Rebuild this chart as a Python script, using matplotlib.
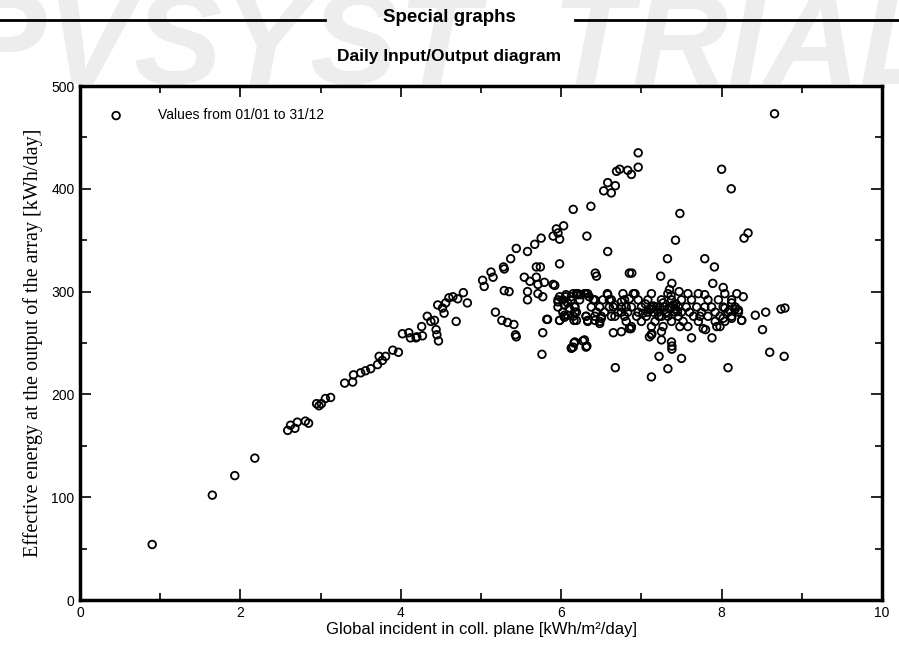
import matplotlib
matplotlib.use("Agg")
import matplotlib.pyplot as plt
from matplotlib.lines import Line2D
from matplotlib.ticker import MultipleLocator

# Global incident in collector plane [kWh/m2/day] and effective array output [kWh/day]
x_low = [0.9, 1.65, 1.93, 2.18, 2.59, 2.625, 2.68, 2.71, 2.81, 2.85, 2.95, 2.98, 3.01, 3.06, 3.125,
         3.3, 3.4, 3.41, 3.5, 3.56, 3.625, 3.71, 3.73, 3.77, 3.81, 3.9, 3.97, 4.02, 4.1, 4.12, 4.19,
         4.2, 4.26, 4.27, 4.33, 4.375, 4.42, 4.44, 4.45, 4.47, 4.46, 4.52, 4.54, 4.56, 4.6, 4.65,
         4.69, 4.71, 4.78, 4.83]
y_low = [54, 102, 121, 138, 165, 170, 167, 173, 174, 172, 191, 189, 191, 196, 197,
         211, 212, 219, 221, 223, 225, 229, 237, 233, 237, 243, 241, 259, 260, 255, 255,
         256, 266, 257, 276, 271, 272, 263, 258, 252, 287, 284, 279, 289, 294, 295,
         271, 293, 299, 289]

x_mid = [5.02, 5.04, 5.125, 5.15, 5.18, 5.26, 5.29, 5.35, 5.33, 5.41, 5.43, 5.44, 5.54, 5.58,
         5.58, 5.61, 5.69, 5.71, 5.71, 5.77, 5.79, 5.77, 5.76, 5.83, 5.9, 5.96, 5.98, 6.04, 6.06,
         6.08, 6.125, 6.16, 6.16, 6.21, 6.15, 6.03, 5.94, 5.96, 5.9, 5.98, 5.75, 5.67, 5.58, 5.44,
         5.37, 5.28, 5.29, 5.98, 5.69, 5.74, 5.92, 5.82]
y_mid = [311, 305, 319, 314, 280, 272, 301, 300, 270, 268, 258, 256, 314, 300,
         292, 310, 314, 307, 298, 295, 309, 260, 239, 273, 307, 292, 272, 277, 295,
         289, 245, 250, 272, 297, 380, 364, 361, 357, 354, 351, 352, 346, 339, 342,
         332, 324, 322, 327, 324, 324, 306, 273]

x_top = [6.96, 6.96, 6.73, 6.69, 6.83, 6.875, 6.58, 6.53, 6.625, 6.675, 6.37, 6.32, 6.58, 6.425,
         6.44, 7.48, 7.425, 7.325, 6.88, 7.24, 8.0, 8.12, 8.28, 8.33, 7.79, 7.91, 7.38, 7.35,
         7.47, 7.89, 8.02, 7.79, 8.19, 8.27, 8.66]
y_top = [435, 421, 419, 417, 418, 414, 406, 398, 396, 403, 383, 354, 339, 318,
         315, 376, 350, 332, 318, 315, 419, 400, 352, 357, 332, 324, 308, 302,
         300, 308, 304, 297, 298, 295, 473]

x_band = [6.15, 6.21, 6.29, 6.33, 6.575, 6.77, 6.9, 6.92, 7.125, 7.33, 7.58, 7.71, 8.04,
          6.125, 6.23, 6.4, 6.52, 6.6, 6.79, 6.96, 7.08, 7.25, 7.375, 7.5, 7.625, 7.83, 7.96, 8.125,
          6.17, 6.375, 6.48, 6.65, 6.75, 6.875, 7.0, 7.125, 7.19, 7.23, 7.29, 7.375, 7.46, 7.56,
          7.69, 7.79, 7.875, 8.02, 8.17,
          6.19, 6.44, 6.54, 6.71, 6.83, 6.96, 7.08, 7.15, 7.21, 7.31, 7.42, 7.5, 7.6, 7.75, 7.92,
          8.08, 8.21,
          6.15, 6.31, 6.42, 6.5, 6.625, 6.79, 6.94, 7.06, 7.25, 7.33, 7.46, 7.65, 7.73, 7.83,
          7.98, 8.125,
          6.33, 6.48, 6.81, 7.0, 7.17, 7.375, 7.52, 7.71, 7.92, 8.04,
          6.875, 7.125, 7.27, 7.48, 7.58, 7.94,
          5.98, 5.96, 6.02, 6.06, 6.125, 6.19, 6.25, 6.31, 6.35, 6.42, 5.96, 6.04, 6.10, 6.02,
          6.08, 6.17, 6.19, 6.17, 5.98, 6.04, 6.31, 6.33, 6.42, 6.48, 6.5, 6.58, 6.625, 6.67,
          6.6, 6.75, 6.81, 6.85, 6.67, 6.75, 6.85,
          7.05, 7.1, 7.15, 7.2, 7.27, 7.35, 7.4, 7.45, 7.02, 7.12, 7.22, 7.32, 7.42,
          8.04, 8.1, 8.17, 8.21, 8.125, 8.125, 8.25, 8.02, 8.42, 8.55, 8.74, 8.79, 7.37, 7.43]
y_band = [298, 298, 298, 298, 298, 298, 298, 298, 298, 298, 298, 298, 298,
          292, 292, 292, 292, 292, 292, 292, 292, 292, 292, 292, 292, 292, 292, 292,
          285, 285, 285, 285, 285, 285, 285, 285, 285, 285, 285, 285, 285, 285,
          285, 285, 285, 285, 285,
          280, 280, 280, 280, 280, 280, 280, 280, 280, 280, 280, 280, 280, 280, 280,
          280, 280,
          276, 276, 276, 276, 276, 276, 276, 276, 276, 276, 276, 276, 276, 276,
          276, 276,
          271, 271, 271, 271, 271, 271, 271, 271, 271, 271,
          266, 266, 266, 266, 266, 266,
          295, 290, 292, 297, 295, 298, 297, 298, 295, 292, 285, 287, 284, 280,
          277, 280, 272, 285, 272, 275, 276, 272, 272, 269, 274, 297, 292, 287,
          285, 290, 285, 293, 276, 280, 318,
          288, 283, 286, 282, 289, 284, 287, 281, 279, 283, 276, 279, 283,
          284, 282, 283, 282, 289, 274, 272, 274, 277, 280, 283, 284, 296, 288]

x_lowcl = [6.65, 6.75, 7.1, 7.125, 7.25, 7.25, 7.375, 7.38, 7.38, 7.625, 7.77, 7.8, 7.88, 7.98,
           7.22, 7.5, 6.675, 7.125, 7.33, 8.08, 6.17, 6.27, 6.31, 6.15, 6.85, 6.13, 6.32,
           8.51, 8.6, 8.78, 8.25, 6.29, 6.87, 7.13]
y_lowcl = [260, 261, 256, 258, 261, 253, 251, 247, 244, 255, 264, 263, 255, 266,
           237, 235, 226, 217, 225, 226, 251, 252, 246, 246, 264, 245, 247,
           263, 241, 237, 272, 253, 264, 259]

xs = x_low + x_mid + x_top + x_band + x_lowcl
ys = y_low + y_mid + y_top + y_band + y_lowcl

W, H = 899, 657
fig = plt.figure(figsize=(W / 100, H / 100), dpi=100)
fig.patch.set_facecolor("white")

# light trial watermark (only visible above the plot)
fig.text(0.5, 1 - 84 / H, "PVSYST  TRIAL", ha="center", va="baseline", fontsize=95,
         color="#ededed", fontweight="bold", style="italic", family="Liberation Sans", zorder=0)

ax = fig.add_axes([80 / W, 1 - 600 / H, (882 - 80) / W, (600 - 86) / H], zorder=2)
ax.set_facecolor("white")

ax.scatter(xs, ys, s=30, facecolors="none", edgecolors="black", linewidths=1.3,
           label="Values from 01/01 to 31/12", zorder=3)

ax.set_xlim(0, 10)
ax.set_ylim(0, 500)
ax.xaxis.set_major_locator(MultipleLocator(2))
ax.xaxis.set_minor_locator(MultipleLocator(1))
ax.yaxis.set_major_locator(MultipleLocator(100))
ax.yaxis.set_minor_locator(MultipleLocator(50))
ax.tick_params(which="both", direction="in", top=True, right=True, width=1.2,
               labelsize=10, pad=4)
ax.tick_params(which="major", length=8)
ax.tick_params(which="minor", length=5)
for lab in ax.get_xticklabels() + ax.get_yticklabels():
    lab.set_family("Liberation Sans")
for sp in ax.spines.values():
    sp.set_linewidth(2.5)

ax.set_xlabel("Global incident in coll. plane [kWh/m²/day]", fontsize=12,
              family="Liberation Sans", labelpad=2)
ax.set_ylabel("Effective energy at the output of the array [kWh/day]", fontsize=14.5,
              family="Liberation Serif", labelpad=6)

leg = ax.legend(loc="upper left", frameon=False, handletextpad=2.0,
                borderaxespad=1.0, borderpad=0.6, prop={"family": "Liberation Sans", "size": 10})

fig.text(0.5, 1 - 18 / H, "Special graphs", ha="center", va="center", fontsize=13.5,
         fontweight="bold", family="Liberation Sans", zorder=3)
fig.text(0.5, 1 - 57 / H, "Daily Input/Output diagram", ha="center", va="center", fontsize=12.5,
         fontweight="bold", family="Liberation Sans", zorder=3)
fig.add_artist(Line2D([0 / W, 325 / W], [1 - 20 / H, 1 - 20 / H], color="black", lw=2, zorder=3))
fig.add_artist(Line2D([575 / W, 899 / W], [1 - 20 / H, 1 - 20 / H], color="black", lw=2, zorder=3))

fig.savefig("out.png", dpi=100)
